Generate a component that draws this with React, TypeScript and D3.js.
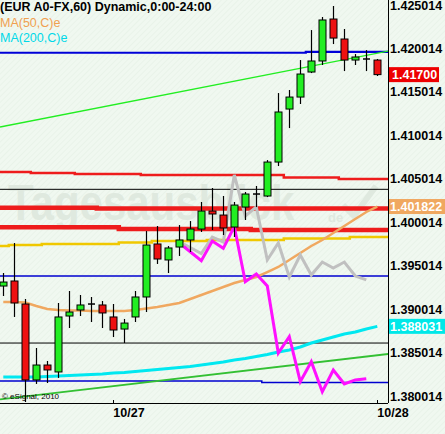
import React, { useEffect } from 'react';
import * as d3 from 'd3';

const W = 445;
const H = 434;
const PLOT_R = 388;
const PLOT_B = 403;

// hourly candles, index 10 = 10/27 00:00, index 34 = 10/28 00:00
const opens = [1.39267, 1.39325, 1.39060, 1.38186, 1.38358, 1.38278, 1.38922, 1.38991, 1.39060, 1.39049, 1.38911, 1.38772, 1.38911, 1.39141, 1.39751, 1.39567, 1.39716, 1.39797, 1.39923, 1.40130, 1.40084, 1.39946, 1.40176, 1.40326, 1.40303, 1.40694, 1.41304, 1.41442, 1.41730, 1.41857, 1.42340, 1.42110, 1.41868, 1.41880, 1.41868];
const highs = [1.39417, 1.39762, 1.39118, 1.38554, 1.38404, 1.39072, 1.39210, 1.39164, 1.39141, 1.39095, 1.39060, 1.38888, 1.39210, 1.39900, 1.39958, 1.39728, 1.39969, 1.40015, 1.40234, 1.40395, 1.40303, 1.40234, 1.40349, 1.40418, 1.40717, 1.41488, 1.41523, 1.41868, 1.42213, 1.42363, 1.42490, 1.42225, 1.41937, 1.41983, 1.41880];
const lows = [1.39152, 1.38911, 1.37932, 1.38140, 1.38151, 1.38209, 1.38784, 1.38922, 1.38853, 1.38784, 1.38680, 1.38611, 1.38853, 1.38968, 1.39521, 1.39417, 1.39613, 1.39659, 1.39889, 1.39912, 1.39854, 1.39831, 1.40027, 1.40176, 1.40291, 1.40648, 1.41085, 1.41362, 1.41718, 1.41811, 1.42052, 1.41741, 1.41811, 1.41741, 1.41684];
const closes = [1.39313, 1.39072, 1.38186, 1.38358, 1.38301, 1.38911, 1.38968, 1.39049, 1.39060, 1.38957, 1.38761, 1.38841, 1.39141, 1.39739, 1.39578, 1.39705, 1.39797, 1.39923, 1.40130, 1.40096, 1.39935, 1.40199, 1.40326, 1.40326, 1.40694, 1.41270, 1.41442, 1.41707, 1.41857, 1.42329, 1.42121, 1.41868, 1.41903, 1.41880, 1.41700];

const ma50 = [1.39083, 1.39083, 1.39077, 1.39037, 1.39003, 1.38991, 1.38985, 1.38985, 1.38980, 1.38980, 1.38980, 1.38980, 1.38991, 1.39008, 1.39026, 1.39049, 1.39072, 1.39118, 1.39164, 1.39210, 1.39256, 1.39302, 1.39337, 1.39371, 1.39428, 1.39486, 1.39567, 1.39647, 1.39728, 1.39797, 1.39877, 1.39958, 1.40038, 1.40119, 1.401822];
const ma200 = [1.38220, 1.38220, 1.38220, 1.38220, 1.38226, 1.38232, 1.38237, 1.38243, 1.38249, 1.38255, 1.38266, 1.38272, 1.38283, 1.38295, 1.38306, 1.38318, 1.38329, 1.38341, 1.38358, 1.38375, 1.38393, 1.38416, 1.38433, 1.38456, 1.38479, 1.38508, 1.38531, 1.38565, 1.38611, 1.38646, 1.38680, 1.38715, 1.38738, 1.38773, 1.388031];

// projection lines [index, price]
const grayPts: [number, number][] = [[16.4, 1.39751], [18, 1.39641], [19, 1.39831], [20, 1.39774], [21, 1.40545], [22, 1.40073], [23, 1.40177], [24, 1.39567], [25, 1.39762], [26, 1.39371], [27, 1.39624], [28, 1.39394], [29, 1.39543], [30, 1.39474], [31, 1.39543], [32, 1.39382], [33, 1.39337]];
const magentaPts: [number, number][] = [[16.4, 1.39722], [18, 1.39558], [19, 1.39785], [20, 1.39701], [21, 1.39952], [22, 1.39317], [23, 1.39405], [24, 1.39267], [25, 1.38496], [26, 1.38684], [27, 1.38166], [28, 1.38396], [29, 1.38051], [30, 1.38301], [31, 1.38140], [32, 1.38186], [33, 1.38200]];

// trend lines [index, price]
const trendUpper: [number, number][] = [[-0.3, 1.41097], [35, 1.41972]];
const trendLower: [number, number][] = [[-0.3, 1.37963], [35, 1.38485]];

// stepped levels [fromIndex, price]
const blueHigh: [number, number][] = [[-1, 1.41952], [28, 1.41963]];
const blueMid: [number, number][] = [[-1, 1.39382]];
const blueLow: [number, number][] = [[-1, 1.38174], [24, 1.38158]];
const redThin: [number, number][] = [[-1, 1.40579], [3, 1.40568], [7, 1.40556], [13, 1.40545], [26, 1.40516], [31, 1.40499]];
const redThickUp: [number, number][] = [[-1, 1.40168], [9, 1.40160]];
const redThickLow: [number, number][] = [[-1, 1.39943], [11, 1.39923], [23, 1.39912]];
const yellowLvl: [number, number][] = [[-1, 1.39728], [1, 1.39739], [4, 1.39751], [11, 1.39768], [14, 1.39785], [19, 1.39797], [26, 1.39814], [32, 1.39831]];
const blackHigh: [number, number][] = [[-1, 1.40380]];
const blackLow: [number, number][] = [[-1, 1.38611]];

const yTicks = [1.380014, 1.385014, 1.390014, 1.395014, 1.400014, 1.405014, 1.410014, 1.415014, 1.420014, 1.425014];
const xTickIdx = [10, 34];
const xTickLabels = ['10/27', '10/28'];

const FONT = '"Liberation Sans", Arial, Helvetica, sans-serif';

export default function App() {
  useEffect(() => {
    document.body.style.margin = '0';
  }, []);

  const x = d3.scaleLinear().domain([0, 34]).range([3.3, 377.3]);
  const y = d3.scaleLinear().domain([1.380014, 1.425014]).range([396, 5]);

  const line = d3.line<[number, number]>().x(d => x(d[0])).y(d => y(d[1]));
  const stepLine = d3.line<[number, number]>().x(d => d[0]).y(d => y(d[1])).curve(d3.curveStepAfter);
  const stepPath = (steps: [number, number][]) => {
    const pts: [number, number][] = steps.map((s, i) => [i === 0 ? 0 : x(s[0] - 0.5), s[1]]);
    pts.push([PLOT_R, steps[steps.length - 1][1]]);
    return stepLine(pts) || '';
  };
  const idxs = d3.range(opens.length);
  const ma50Path = line(idxs.map(i => [i, ma50[i]] as [number, number])) || '';
  const ma200Path = line(idxs.map(i => [i, ma200[i]] as [number, number])) || '';

  const bw = 7;
  const last = closes[closes.length - 1];

  return (
    <svg width={W} height={H} style={{ position: 'absolute', left: 0, top: 0, display: 'block' }} fontFamily={FONT}>
      <defs>
        <pattern id="hatch" width="4" height="4" patternUnits="userSpaceOnUse" patternTransform="rotate(45)">
          <rect width="4" height="4" fill="#f0f8f0" />
          <line x1="0" y1="0" x2="0" y2="4" stroke="#e5f0e5" strokeWidth="1.2" />
        </pattern>
        <clipPath id="plot">
          <rect x="0" y="0" width={PLOT_R} height={PLOT_B} />
        </clipPath>
      </defs>
      <rect x="0" y="0" width={W} height={H} fill="url(#hatch)" />

      {/* watermark */}
      <text transform="translate(8,220) scale(1,1.2)" fontSize="42" fontWeight="bold" fill="#dfe9df">Tagesausblick</text>
      <text x="328" y="222" fontSize="13" fontWeight="bold" fill="#dfe9df">de</text>
      <polyline points="343,205 354,216 376,186" fill="none" stroke="#dfe9df" strokeWidth="6" />

      <g clipPath="url(#plot)" fill="none">
        <path d={stepPath(blackHigh)} stroke="#000" strokeWidth="1" />
        <path d={stepPath(blackLow)} stroke="#000" strokeWidth="1" />
        <path d={stepPath(blueMid)} stroke="#0000d0" strokeWidth="1.5" />
        <path d={stepPath(blueLow)} stroke="#0000d0" strokeWidth="1.5" />
        <path d={stepPath(blueHigh)} stroke="#0000d8" strokeWidth="2.2" />
        <path d={stepPath(redThin)} stroke="#ee1c1c" strokeWidth="2.5" />
        <path d={stepPath(redThickUp)} stroke="#ee1c1c" strokeWidth="4.5" />
        <path d={stepPath(redThickLow)} stroke="#ee1c1c" strokeWidth="4.5" />
        <path d={stepPath(yellowLvl)} stroke="#f0c800" strokeWidth="2.5" />
        <path d={line(trendUpper) || ''} stroke="#22ee22" strokeWidth="1.3" />
        <path d={line(trendLower) || ''} stroke="#33c033" strokeWidth="1.8" />
        <path d={ma200Path} stroke="#00e8f0" strokeWidth="3" />
        <path d={ma50Path} stroke="#f0a860" strokeWidth="2.5" />
        <path d={line(grayPts) || ''} stroke="#c0c0c0" strokeWidth="3" strokeLinejoin="miter" />
        <path d={line(magentaPts) || ''} stroke="#ff10ff" strokeWidth="3" strokeLinejoin="miter" />

        {idxs.map(i => {
          const cx = Math.round(x(i)) + 0.5;
          const o = opens[i], c = closes[i];
          const top = y(Math.max(o, c));
          const bot = y(Math.min(o, c));
          const doji = bot - top < 1.5;
          return (
            <g key={i}>
              <line x1={cx} x2={cx} y1={y(highs[i])} y2={y(lows[i])} stroke="#000" strokeWidth="1.2" />
              {doji ? (
                <line x1={cx - bw / 2} x2={cx + bw / 2} y1={top} y2={top} stroke="#000" strokeWidth="1.5" />
              ) : (
                <rect x={cx - bw / 2} y={top} width={bw} height={bot - top}
                  fill={c >= o ? '#22ee22' : '#ee1111'} stroke="#000" strokeWidth="1" />
              )}
            </g>
          );
        })}
      </g>

      {/* axes */}
      <line x1={PLOT_R + 0.5} x2={PLOT_R + 0.5} y1={0} y2={PLOT_B} stroke="#000" strokeWidth="1" />
      <line x1={0} x2={PLOT_R} y1={PLOT_B + 0.5} y2={PLOT_B + 0.5} stroke="#000" strokeWidth="1" />
      {yTicks.map(t => (
        <text key={t} x={390} y={y(t) + 4.5} fontSize="12.5" fontWeight="bold" fill="#000">{t.toFixed(6)}</text>
      ))}
      {xTickIdx.map((t, i) => (
        <g key={t}>
          <line x1={Math.round(x(t)) + 0.5} x2={Math.round(x(t)) + 0.5} y1={PLOT_B} y2={PLOT_B - 3} stroke="#000" />
          <text x={x(t)} y={417} fontSize="12.5" fontWeight="bold" fill="#000">{xTickLabels[i]}</text>
        </g>
      ))}

      {/* value tags */}
      <rect x={389} y={y(last) - 7.5} width={50} height={15} fill="#ee0000" />
      <text x={392} y={y(last) + 4.5} fontSize="12.5" fontWeight="bold" fill="#fff">{last.toFixed(5)}</text>
      <rect x={389} y={y(ma50[ma50.length - 1]) - 7.5} width={56} height={15} fill="#f0a860" />
      <text x={390} y={y(ma50[ma50.length - 1]) + 4.5} fontSize="12.5" fontWeight="bold" fill="#fff">{ma50[ma50.length - 1].toFixed(6)}</text>
      <rect x={389} y={y(ma200[ma200.length - 1]) - 7.5} width={56} height={15} fill="#00e8e8" />
      <text x={390} y={y(ma200[ma200.length - 1]) + 4.5} fontSize="12.5" fontWeight="bold" fill="#fff">{ma200[ma200.length - 1].toFixed(6)}</text>

      {/* legend */}
      <text x={0} y={11} fontSize="12.5" fontWeight="bold" fill="#000">(EUR A0-FX,60) Dynamic,0:00-24:00</text>
      <text x={0} y={27} fontSize="12.5" fill="#f0a050">MA(50,C)e</text>
      <text x={0} y={41.5} fontSize="12.5" fill="#00d8e8">MA(200,C)e</text>
      <text x={2} y={399} fontSize="8" fill="#000">© eSignal, 2010</text>
    </svg>
  );
}
